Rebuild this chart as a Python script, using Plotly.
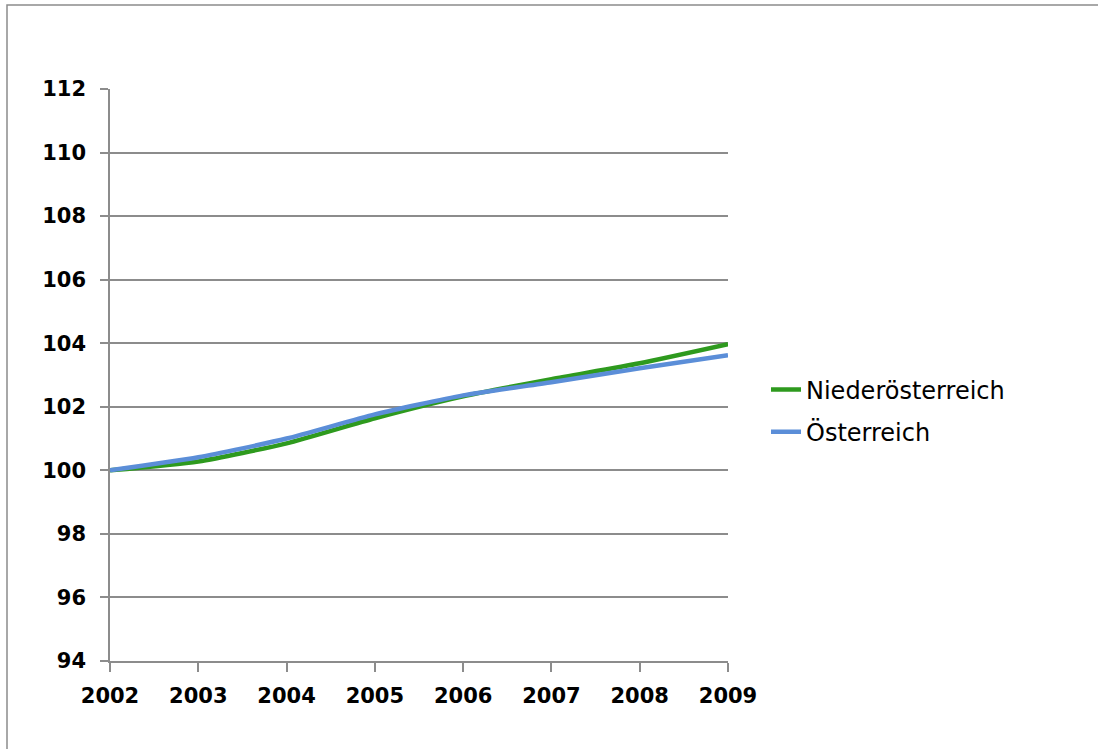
import plotly.graph_objects as go

years = [2002, 2003, 2004, 2005, 2006, 2007, 2008, 2009]
niederoesterreich = [100.0, 100.28, 100.85, 101.64, 102.33, 102.87, 103.37, 103.97]
oesterreich = [100.0, 100.41, 101.0, 101.76, 102.36, 102.77, 103.21, 103.62]
y_ticks = [94, 96, 98, 100, 102, 104, 106, 108, 110, 112]

fig = go.Figure()
fig.add_trace(go.Scatter(x=years, y=niederoesterreich, mode="lines", name="Niederösterreich",
                         legendgroup="a",
                         line=dict(color="#2E9A1E", width=4.5, shape="spline", smoothing=0.6)))
fig.add_trace(go.Scatter(x=years, y=oesterreich, mode="lines", name="Österreich",
                         legendgroup="b",
                         line=dict(color="#5B8ED8", width=4.5, shape="spline", smoothing=0.6)))

W, H = 1098, 749
L, R, T, B = 110, 728, 89, 661
pw, ph = R - L, B - T

def px(x):
    return (x - L) / pw

def py(y):
    return (B - y) / ph

fig.add_shape(type="rect", xref="paper", yref="paper",
              x0=px(7), x1=px(1110), y0=py(760), y1=py(5),
              line=dict(color="#8C8C8C", width=1.5), fillcolor="rgba(0,0,0,0)", layer="below")

tickfont = dict(size=21, family="DejaVu Sans", weight="bold", color="black")

fig.update_layout(
    width=W, height=H,
    margin=dict(l=L, r=W - R, t=T, b=H - B),
    paper_bgcolor="white", plot_bgcolor="white",
    font=dict(family="DejaVu Sans", color="black"),
    showlegend=True,
    legend=dict(x=px(766), y=py(411), xanchor="left", yanchor="middle",
                font=dict(size=24, family="DejaVu Sans", color="black"),
                bgcolor="rgba(0,0,0,0)", itemwidth=30, tracegroupgap=8),
    xaxis=dict(range=[2002, 2009], tickmode="array", tickvals=years,
               ticktext=[str(y) for y in years],
               showgrid=False, showline=True, linecolor="#8C8C8C", linewidth=1.5,
               ticks="outside", ticklen=9, tickcolor="#8C8C8C", tickwidth=1.5,
               tickfont=tickfont, ticklabelstandoff=6,
               zeroline=False, fixedrange=True),
    yaxis=dict(range=[94, 112], tickmode="array", tickvals=y_ticks,
               showgrid=True, gridcolor="#8C8C8C", gridwidth=1.5,
               showline=True, linecolor="#8C8C8C", linewidth=1.5,
               ticks="outside", ticklen=8, tickcolor="#8C8C8C", tickwidth=1.5,
               tickfont=tickfont, ticklabelstandoff=10,
               zeroline=False, fixedrange=True),
)

fig.write_html("out.html")
